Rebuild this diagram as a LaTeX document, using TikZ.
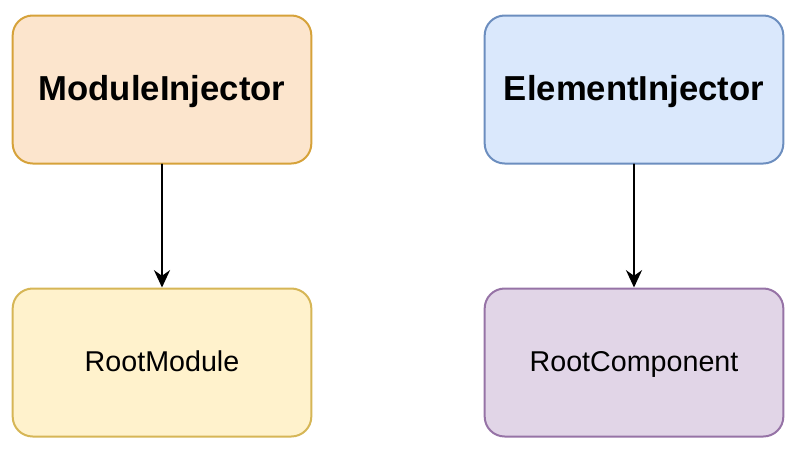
\documentclass[tikz,border=0pt]{standalone}
\usepackage{fontspec}
\setmainfont{Liberation Sans}
\usetikzlibrary{arrows.meta}
\definecolor{orangefill}{HTML}{FCE5CD}
\definecolor{orangeline}{HTML}{D6A23A}
\definecolor{yellowfill}{HTML}{FFF2CC}
\definecolor{yellowline}{HTML}{D6B656}
\definecolor{bluefill}{HTML}{DAE8FC}
\definecolor{blueline}{HTML}{6C8EBF}
\definecolor{purplefill}{HTML}{E1D5E7}
\definecolor{purpleline}{HTML}{9673A6}
\begin{document}
\begin{tikzpicture}[line cap=round,line join=round,x=0.75pt,y=-0.75pt,
  box/.style={draw,line width=1.5pt,rounded corners=15pt,minimum width=224pt,minimum height=111pt,inner sep=0pt},
  title/.style={font=\bfseries\fontsize{26}{30}\selectfont,text depth=2pt},
  label/.style={font=\fontsize{21.5}{26}\selectfont,text depth=2pt},
  arr/.style={-{Stealth[length=13pt,width=12pt]},line width=1.7pt}]
\useasboundingbox (0,0) rectangle (802,454);
\node [box,title,fill=orangefill,draw=orangeline] (modinj) at (162,89.5) {ModuleInjector};
\node [box,label,fill=yellowfill,draw=yellowline] (rootmod) at (162,362.5) {RootModule};

\node [box,title,fill=bluefill,draw=blueline] (eleminj) at (634,89.5) {ElementInjector};
\node [box,label,fill=purplefill,draw=purpleline] (rootcomp) at (634,362.5) {RootComponent};

\draw [arr] (modinj)--(rootmod);
\draw [arr] (eleminj)--(rootcomp);
\end{tikzpicture}
\end{document}
